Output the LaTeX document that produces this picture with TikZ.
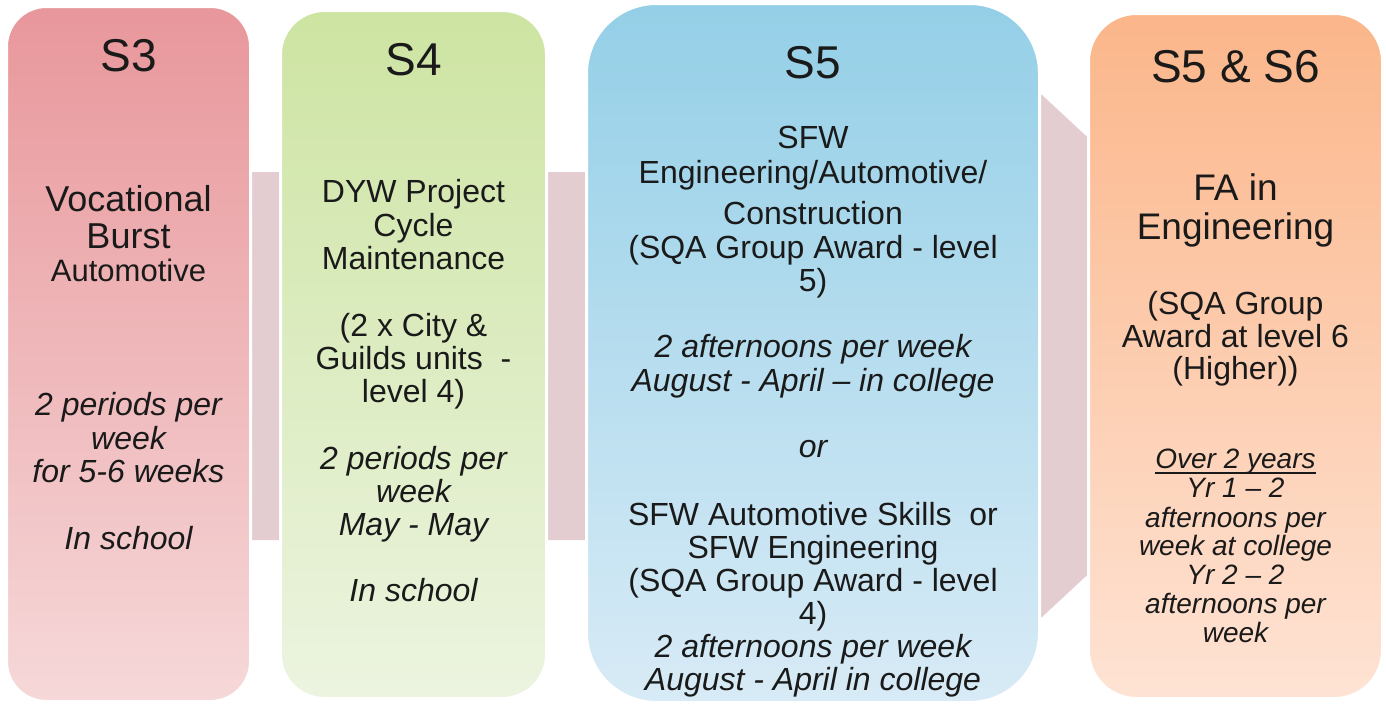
\documentclass[tikz,border=0pt]{standalone}
\usepackage{fontspec}
\setmainfont{Liberation Sans}
\definecolor{sthreetop}{HTML}{E8979B}
\definecolor{sthreebot}{HTML}{F6D8D9}
\definecolor{sfourtop}{HTML}{CDE4A2}
\definecolor{sfourbot}{HTML}{ECF4E0}
\definecolor{sfivetop}{HTML}{94CFE7}
\definecolor{sfivebot}{HTML}{D8EBF6}
\definecolor{ssixtop}{HTML}{FBB68A}
\definecolor{ssixbot}{HTML}{FEE3D4}
\definecolor{arrowpink}{HTML}{E3CDD1}
\definecolor{txt}{HTML}{1A1A1A}
\tikzset{
  box/.style={draw=white, line width=3pt, inner sep=0pt, rectangle},
  ln/.style={anchor=base, inner sep=0pt, text=txt, font=\fontsize{32}{34}\selectfont},
  lni/.style={anchor=base, inner sep=0pt, text=txt, font=\fontsize{32}{34}\selectfont\itshape},
  lns/.style={anchor=base, inner sep=0pt, text=txt, font=\fontsize{28}{30}\selectfont\itshape},
  ttl/.style={anchor=base, inner sep=0pt, text=txt, font=\fontsize{46}{50}\selectfont},
}
\begin{document}
\begin{tikzpicture}[x=1pt,y=-1pt]
\useasboundingbox (0,0) rectangle (1386,704);
\fill[white] (0,0) rectangle (1386,704);
% background arrow
\coordinate (a1) at (150,172);
\coordinate (a2) at (1000,172);
\coordinate (a3) at (1000,56);
\coordinate (a4) at (1323,356);
\coordinate (a5) at (1000,656);
\coordinate (a6) at (1000,540);
\coordinate (a7) at (150,540);
\fill[arrowpink] (a1) -- (a2) -- (a3) -- (a4) -- (a5) -- (a6) -- (a7) -- cycle;
% boxes
\node[box, rounded corners=40pt, top color=sthreetop, bottom color=sthreebot,
      minimum width=244pt, minimum height=695pt] (s3) at (128.5,354) {};
\node[box, rounded corners=44pt, top color=sfourtop, bottom color=sfourbot,
      minimum width=266pt, minimum height=688pt] (s4) at (413.5,354.5) {};
\node[box, rounded corners=70pt, top color=sfivetop, bottom color=sfivebot,
      minimum width=453pt, minimum height=699pt] (s5) at (813,353) {};
\node[box, rounded corners=48pt, top color=ssixtop, bottom color=ssixbot,
      minimum width=294pt, minimum height=685pt] (s6) at (1235.5,356) {};
% S3 text
\node[ttl] (s3t) at (128.5,71) {S3};
\node[ln, font=\fontsize{36}{38}\selectfont] (s3a) at (128.5,211) {Vocational};
\node[ln, font=\fontsize{36}{38}\selectfont] (s3b) at (128.5,248) {Burst};
\node[ln, font=\fontsize{31}{33}\selectfont] (s3c) at (128.5,281) {Automotive};
\node[lni] (s3d) at (128.5,415) {2 periods per};
\node[lni] (s3e) at (128.5,449) {week};
\node[lni] (s3f) at (128.5,482) {for 5-6 weeks};
\node[lni] (s3g) at (128.5,549) {In school};
% S4 text
\node[ttl] (s4t) at (413.5,75) {S4};
\node[ln] (s4a) at (413.5,202) {DYW Project};
\node[ln] (s4b) at (413.5,236) {Cycle};
\node[ln] (s4c) at (413.5,269) {Maintenance};
\node[ln] (s4d) at (413.5,336) {(2 x City \&};
\node[ln] (s4e) at (413.5,369) {Guilds units\ \ -};
\node[ln] (s4f) at (413.5,402) {level 4)};
\node[lni] (s4g) at (413.5,469) {2 periods per};
\node[lni] (s4h) at (413.5,502) {week};
\node[lni] (s4i) at (413.5,535) {May - May};
\node[lni] (s4j) at (413.5,601) {In school};
% S5 text
\node[ttl] (s5t) at (813,78) {S5};
\node[ln] (s5a) at (813,148) {SFW};
\node[ln] (s5b) at (813,183) {Engineering/Automotive/};
\node[ln] (s5c) at (813,224) {Construction};
\node[ln] (s5d) at (813,258) {(SQA Group Award - level};
\node[ln] (s5e) at (813,291) {5)};
\node[lni] (s5f) at (813,357) {2 afternoons per week};
\node[lni] (s5g) at (813,391) {August - April – in college};
\node[lni] (s5h) at (813,457) {or};
\node[ln] (s5i) at (813,525) {SFW Automotive Skills\ \ or};
\node[ln] (s5j) at (813,558) {SFW Engineering};
\node[ln] (s5k) at (813,591) {(SQA Group Award - level};
\node[ln] (s5l) at (813,624) {4)};
\node[lni] (s5m) at (813,657) {2 afternoons per week};
\node[lni] (s5n) at (813,690) {August - April in college};
% S5 & S6 text
\node[ttl] (s6t) at (1235.5,82) {S5 \& S6};
\node[ln, font=\fontsize{37}{39}\selectfont] (s6a) at (1235.5,200) {FA in};
\node[ln, font=\fontsize{37}{39}\selectfont] (s6b) at (1235.5,239) {Engineering};
\node[ln] (s6c) at (1235.5,314) {(SQA Group};
\node[ln] (s6d) at (1235.5,347) {Award at level 6};
\node[ln] (s6e) at (1235.5,379) {(Higher))};
\node[lns] (s6f) at (1235.5,468) {Over 2 years};
\draw[txt, line width=1.3pt] ([yshift=-5pt]s6f.base west) -- ([yshift=-5pt]s6f.base east);
\node[lns] (s6g) at (1235.5,497) {Yr 1 – 2};
\node[lns] (s6h) at (1235.5,527) {afternoons per};
\node[lns] (s6i) at (1235.5,555) {week at college};
\node[lns] (s6j) at (1235.5,584) {Yr 2 – 2};
\node[lns] (s6k) at (1235.5,613) {afternoons per};
\node[lns] (s6l) at (1235.5,642) {week};
\end{tikzpicture}
\end{document}
